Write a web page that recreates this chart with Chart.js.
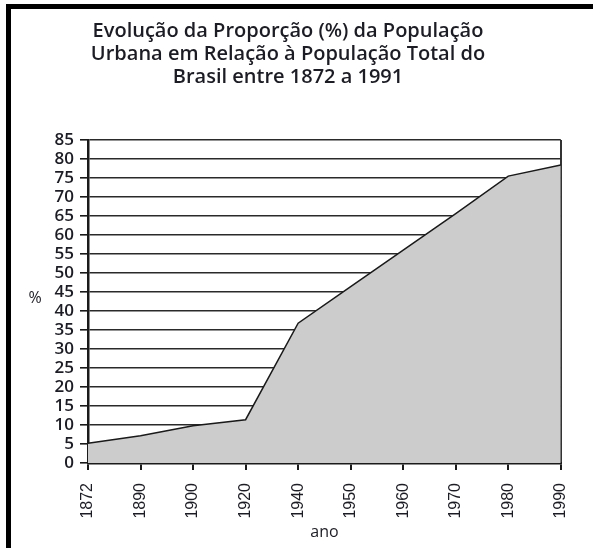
<!DOCTYPE html>
<html>
<head>
<meta charset="utf-8">
<script src="https://cdn.jsdelivr.net/npm/chart.js@4.4.1/dist/chart.umd.min.js"></script>
<style>
  html, body { margin: 0; padding: 0; background: #fff; }
  #wrap { position: relative; width: 593px; height: 548px; overflow: hidden; }
  #frame { position: absolute; left: 6px; top: 4px; right: -10px; bottom: -10px;
           border-left: 5px solid #000; border-top: 5px solid #000; pointer-events: none; }
  canvas { position: absolute; left: 0; top: 0; }
</style>
</head>
<body>
<div id="wrap">
  <canvas id="c" width="593" height="548"></canvas>
  <div id="frame"></div>
</div>
<script>
const titleLines = ['Evolução da Proporção (%) da População', 'Urbana em Relação à População Total do', 'Brasil entre 1872 a 1991'];
const years = ['1872', '1890', '1900', '1920', '1940', '1950', '1960', '1970', '1980', '1990'];
const urbanShare = [5.2, 7.2, 9.8, 11.4, 36.8, 46.4, 56.0, 65.6, 75.5, 78.4];
const yLabel = '%';
const xLabel = 'ano';

const textColor = '#1c1c24';
const lineColor = '#1a1a1a';

const yLabelPlugin = {
  id: 'yLabel',
  afterDraw(chart) {
    const { ctx, chartArea } = chart;
    ctx.save();
    ctx.font = '500 16px "Open Sans"';
    ctx.fillStyle = textColor;
    ctx.textAlign = 'center';
    ctx.textBaseline = 'middle';
    ctx.fillText(yLabel, chartArea.left - 53, (chartArea.top + chartArea.bottom) / 2 - 3);
    ctx.restore();
  }
};

new Chart(document.getElementById('c'), {
  type: 'line',
  data: {
    labels: years,
    datasets: [{
      data: urbanShare,
      borderColor: lineColor,
      borderWidth: 1.5,
      backgroundColor: '#cccccc',
      fill: 'origin',
      tension: 0,
      pointRadius: 0
    }]
  },
  options: {
    responsive: false,
    animation: false,
    events: [],
    layout: { padding: { left: 13, right: 30, top: 20, bottom: 2 } },
    plugins: {
      legend: { display: false },
      tooltip: { enabled: false },
      title: {
        display: true,
        text: titleLines,
        color: textColor,
        font: { family: '"Open Sans"', size: 20, weight: '600', lineHeight: 23 / 20 },
        padding: { top: 0, bottom: 51 }
      }
    },
    scales: {
      x: {
        type: 'category',
        offset: false,
        afterFit: (scale) => { scale.height = 83; },
        border: { display: true, color: lineColor, width: 2.5 },
        grid: {
          drawOnChartArea: true,
          color: (c) => (c.index === years.length - 1 ? '#333' : 'rgba(0,0,0,0)'),
          tickColor: lineColor,
          lineWidth: 2,
          tickLength: 7,
          tickWidth: 2
        },
        ticks: {
          color: textColor,
          font: { family: '"Liberation Sans"', size: 16 },
          minRotation: 90,
          maxRotation: 90,
          autoSkip: false,
          padding: 13
        },
        title: {
          display: true,
          text: xLabel,
          color: textColor,
          font: { family: '"Open Sans"', size: 16, weight: '500' },
          padding: { top: 0, bottom: 4 }
        }
      },
      y: {
        min: 0,
        max: 85,
        afterFit: (scale) => { scale.width = 75; },
        border: { display: true, color: lineColor, width: 2.5 },
        grid: {
          color: '#2a2a2a',
          lineWidth: 1.6,
          tickLength: 8,
          tickColor: lineColor
        },
        ticks: {
          stepSize: 5,
          autoSkip: false,
          color: textColor,
          padding: 6,
          font: { family: '"Open Sans"', size: 17, weight: '600' }
        }
      }
    }
  },
  plugins: [yLabelPlugin]
});
</script>
</body>
</html>
